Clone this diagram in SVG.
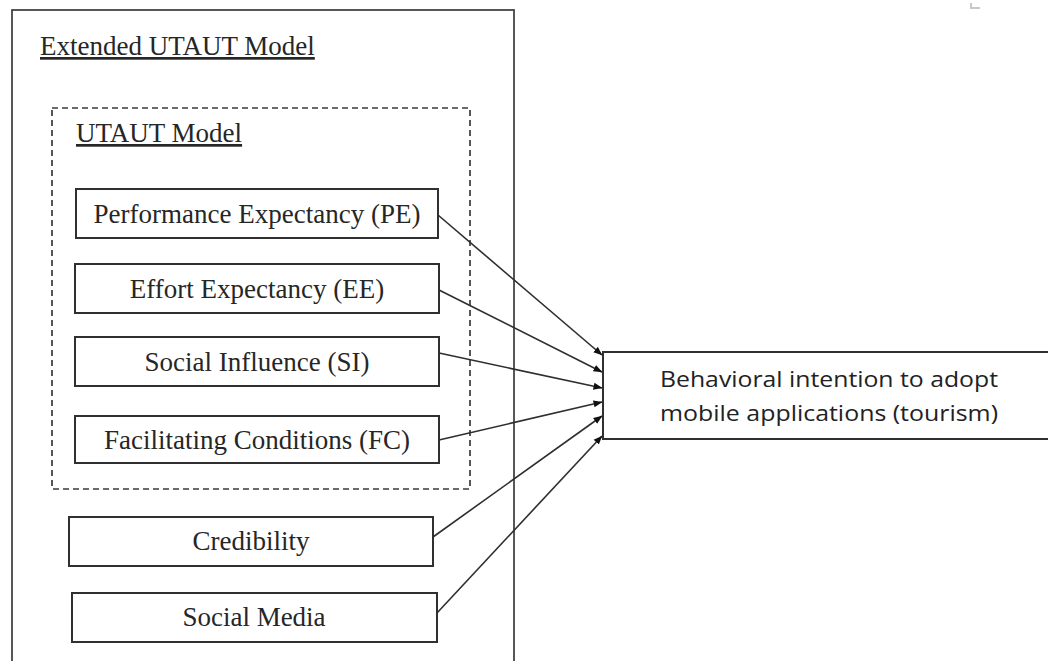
<svg xmlns="http://www.w3.org/2000/svg" width="1048" height="661" viewBox="0 0 1048 661">
  <style>
    .frame { fill: #ffffff; stroke: #3a3a3a; stroke-width: 1.7; }
    .dash { fill: none; stroke: #3a3a3a; stroke-width: 1.7; stroke-dasharray: 6 4; }
    .box { fill: #ffffff; stroke: #303030; stroke-width: 2; }
    .lbl { font-family: "Liberation Serif", "Times New Roman", serif; font-size: 27px; fill: #262626; text-anchor: middle; }
    .title { font-family: "Liberation Serif", "Times New Roman", serif; font-size: 27px; fill: #262626; text-decoration: underline; }
    .sans { font-family: "Open Sans", "Noto Sans", sans-serif; font-size: 22px; fill: #222222; text-anchor: middle; }
    .conn { stroke: #2e2e2e; stroke-width: 1.6; fill: none; marker-end: url(#arrow); }
  </style>
  <defs>
    <marker id="arrow" markerUnits="userSpaceOnUse" markerWidth="9" markerHeight="8" refX="8.5" refY="4" orient="auto">
      <path d="M0,0.5 L9,4 L0,7.5 Z" fill="#111111"/>
    </marker>
  </defs>

  <rect width="1048" height="661" fill="#ffffff"/>

  <!-- small corner mark at top right -->
  <path d="M971,3 V8 H980" fill="none" stroke="#c8c8c8" stroke-width="2"/>

  <!-- outer container: extended model -->
  <g id="extended-model">
    <rect class="frame" x="12" y="10" width="502" height="670"/>
    <text class="title" x="40" y="55">Extended UTAUT Model</text>
  </g>

  <!-- inner dashed container: core model -->
  <g id="utaut-model">
    <rect class="dash" x="52" y="108" width="418" height="381"/>
    <text class="title" x="76" y="142">UTAUT Model</text>
  </g>

  <g id="pe">
    <rect class="box" x="76" y="189" width="362" height="49"/>
    <text class="lbl" x="257" y="223">Performance Expectancy (PE)</text>
  </g>
  <g id="ee">
    <rect class="box" x="75" y="264" width="364" height="49"/>
    <text class="lbl" x="257" y="298">Effort Expectancy (EE)</text>
  </g>
  <g id="si">
    <rect class="box" x="75" y="337" width="364" height="49"/>
    <text class="lbl" x="257" y="371">Social Influence (SI)</text>
  </g>
  <g id="fc">
    <rect class="box" x="75" y="416" width="364" height="47"/>
    <text class="lbl" x="257" y="449">Facilitating Conditions (FC)</text>
  </g>
  <g id="credibility">
    <rect class="box" x="69" y="517" width="364" height="49"/>
    <text class="lbl" x="251" y="550">Credibility</text>
  </g>
  <g id="social-media">
    <rect class="box" x="72" y="593" width="365" height="49"/>
    <text class="lbl" x="254" y="626">Social Media</text>
  </g>

  <g id="intention">
    <rect class="box" x="603" y="352" width="460" height="87"/>
    <text class="sans" x="829" y="387" textLength="338" lengthAdjust="spacingAndGlyphs">Behavioral intention to adopt</text>
    <text class="sans" x="829" y="421" textLength="338" lengthAdjust="spacingAndGlyphs">mobile applications (tourism)</text>
  </g>

  <g id="connectors">
    <line class="conn" x1="438" y1="215" x2="602" y2="355"/>
    <line class="conn" x1="439" y1="290" x2="602" y2="372"/>
    <line class="conn" x1="439" y1="353" x2="602" y2="388"/>
    <line class="conn" x1="439" y1="440" x2="602" y2="402"/>
    <line class="conn" x1="433" y1="537" x2="602" y2="416"/>
    <line class="conn" x1="437" y1="613" x2="602" y2="436"/>
  </g>
</svg>
